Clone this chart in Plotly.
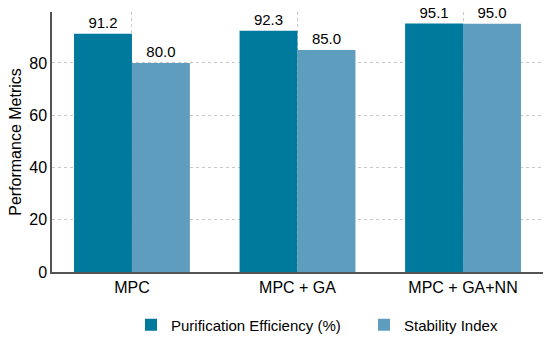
import plotly.graph_objects as go

categories = ["MPC", "MPC + GA", "MPC + GA+NN"]
purification = [91.2, 92.3, 95.1]
stability = [80.0, 85.0, 95.0]
series_names = ["Purification Efficiency (%)", "Stability Index"]
colors = ["#007A9C", "#5F9DBF"]
legend_ids = ["legend", "legend2"]

fig = go.Figure()
for name, vals, col, lg in zip(series_names, [purification, stability], colors, legend_ids):
    fig.add_trace(go.Bar(
        x=categories, y=vals, name=name, marker_color=col, marker_line_width=0,
        text=[f"{v:.1f}" for v in vals], textposition="outside",
        textfont=dict(size=15, color="black"), cliponaxis=False, legend=lg,
    ))

leg_common = dict(orientation="h", xref="container", yref="container", xanchor="left",
                  y=1 - 325 / 338, yanchor="middle", font=dict(size=15),
                  itemwidth=30, bgcolor="rgba(0,0,0,0)")
fig.update_layout(
    width=550, height=338,
    margin=dict(l=52, r=7, t=12, b=66, autoexpand=False),
    barmode="group", bargap=0.3, bargroupgap=0,
    plot_bgcolor="white", paper_bgcolor="white",
    font=dict(family="Liberation Sans, Arial, sans-serif", size=16, color="black"),
    legend=dict(x=131 / 550, **leg_common),
    legend2=dict(x=364 / 550, **leg_common),
    showlegend=True,
)
fig.update_xaxes(
    range=[-0.483, 2.483], showline=True, linecolor="#555555", linewidth=1.5,
    showgrid=True, gridcolor="#c8c8c8", griddash="dot", gridwidth=1,
    ticks="", tickfont=dict(size=16), automargin=False,
)
fig.update_yaxes(
    range=[0, 99.5], showline=True, linecolor="#555555", linewidth=1.5,
    showgrid=True, gridcolor="#c8c8c8", griddash="dot", gridwidth=1,
    tickvals=[0, 20, 40, 60, 80], ticks="", tickfont=dict(size=16),
    title=dict(text="Performance Metrics", font=dict(size=16), standoff=4),
    zeroline=False, automargin=False,
)
fig.write_html("out.html", config={"displayModeBar": False},
               post_script="document.body.style.margin='0';")
